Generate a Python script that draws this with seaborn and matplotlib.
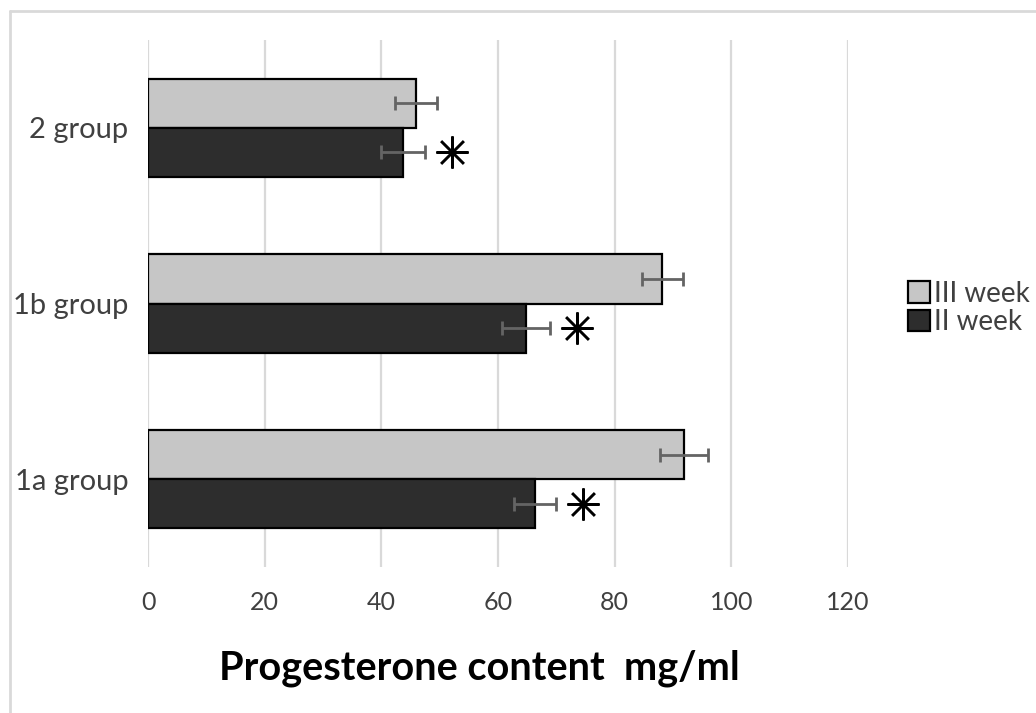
import matplotlib
matplotlib.use("Agg")
import matplotlib.pyplot as plt
from matplotlib.lines import Line2D
from matplotlib.patches import Patch
import seaborn as sns
import pandas as pd

groups = ["2 group", "1b group", "1a group"]
weeks = ["III week", "II week"]
week3 = [46.0, 88.2, 91.9]
week3_err = [3.6, 3.5, 4.1]
week2 = [43.7, 64.8, 66.4]
week2_err = [3.8, 4.1, 3.6]
colors = {"III week": "#c6c6c6", "II week": "#2d2d2d"}

df = pd.DataFrame({
    "group": groups * 2,
    "week": ["III week"] * 3 + ["II week"] * 3,
    "value": week3 + week2,
    "err": week3_err + week2_err,
})

sns.set_style("white")
plt.rcParams["font.family"] = ["Lato", "DejaVu Sans"]

fig = plt.figure(figsize=(10.36, 7.13), dpi=100)
ax = fig.add_axes([148 / 1036, 1 - 567 / 713, 700 / 1036, 527 / 713])

sns.barplot(data=df, x="value", y="group", hue="week", order=groups,
            hue_order=weeks, palette=colors, orient="h", width=0.56,
            edgecolor="black", linewidth=1.6, legend=False, ax=ax, zorder=2)

# error bars and significance marks, taken from the drawn bars
for cont, w in zip(ax.containers, weeks):
    sub = df[df["week"] == w].set_index("group").loc[groups]
    ys = [b.get_y() + b.get_height() / 2 for b in cont]
    ax.errorbar(sub["value"], ys, xerr=sub["err"], fmt="none",
                ecolor="#646464", elinewidth=2, capsize=5, capthick=2, zorder=3)
    if w == "II week":
        sx = sub["value"] + sub["err"] + 4.6
        ax.plot(sx, ys, linestyle="none", marker=(8, 2, 0), markersize=23,
                markeredgewidth=1.8, color="black", zorder=4)
        ax.plot(sx, ys, linestyle="none", marker="o", markersize=4,
                color="black", zorder=4)

ax.set_xlim(0, 120)
ax.set_ylim(2.5, -0.5)
ax.set_xticks(range(0, 121, 20))
ax.xaxis.grid(True, color="#d9d9d9", linewidth=1.6, zorder=0)
ax.set_axisbelow(True)
for s in ax.spines.values():
    s.set_visible(False)
ax.tick_params(axis="x", length=0, pad=17, labelsize=18, labelcolor="#404040")
ax.tick_params(axis="y", length=0, pad=14, labelsize=21, labelcolor="#404040")
ax.set_xlabel("")
ax.set_ylabel("")

fig.text(479 / 1036, 1 - 668 / 713, "Progesterone content  mg/ml",
         ha="center", va="center", fontsize=28.5, fontweight="bold", color="black")

handles = [Patch(facecolor=colors[w], edgecolor="black", linewidth=1.6) for w in weeks]
fig.legend(handles, weeks, loc="center left", bbox_to_anchor=(908 / 1036, 1 - 308 / 713),
           frameon=False, fontsize=20, handlelength=0.8, handleheight=0.8,
           handletextpad=0.15, labelspacing=0.1, borderaxespad=0, borderpad=0,
           labelcolor="#404040")

fig.add_artist(Line2D([10 / 1036, 1], [1 - 11 / 713, 1 - 11 / 713],
                      color="#d9d9d9", linewidth=2))
fig.add_artist(Line2D([10 / 1036, 10 / 1036], [0, 1 - 11 / 713],
                      color="#d9d9d9", linewidth=2))

fig.savefig("out.png", dpi=100)
